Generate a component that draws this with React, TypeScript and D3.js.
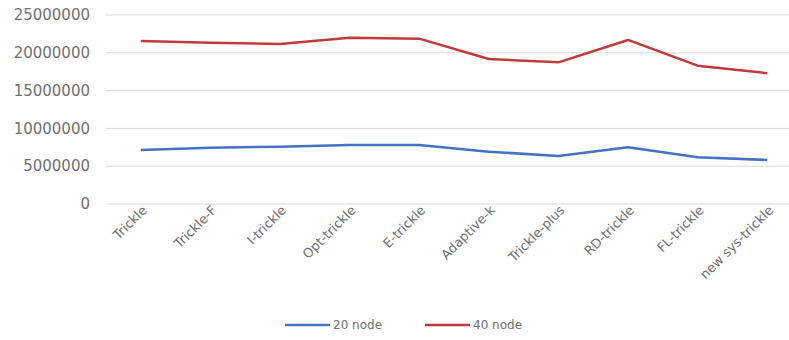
import React, { useEffect, useRef } from "react"
import * as d3 from "d3"

const categories = ["Trickle", "Trickle-F", "I-trickle", "Opt-trickle", "E-trickle", "Adaptive-k", "Trickle-plus", "RD-trickle", "FL-trickle", "new sys-trickle"]
const node20 = [7140000, 7450000, 7580000, 7800000, 7800000, 6920000, 6350000, 7500000, 6180000, 5820000]
const node40 = [21560000, 21340000, 21160000, 22000000, 21870000, 19180000, 18740000, 21700000, 18300000, 17300000]
const yTicks = [0, 5000000, 10000000, 15000000, 20000000, 25000000]
const seriesNames = ["20 node", "40 node"]
const colors = ["#4472C4", "#C0393B"]

export default function App() {
    const ref = useRef<SVGSVGElement>(null)

    useEffect(() => {
        const svg = d3.select(ref.current)
        svg.selectAll("*").remove()

        const width = 789
        const left = 106, right = 802, top = 15, bottom = 204

        const x = d3.scaleBand()
            .domain(categories)
            .range([left, right])
        const y = d3.scaleLinear()
            .domain([0, 25000000])
            .range([bottom, top])

        // gridlines
        svg.append("g")
            .selectAll("line")
            .data(yTicks)
            .enter()
            .append("line")
            .attr("x1", left)
            .attr("x2", width)
            .attr("y1", d => y(d))
            .attr("y2", d => y(d))
            .attr("stroke", "#d9d9d9")
            .attr("stroke-width", 1)

        // y labels
        svg.append("g")
            .selectAll("text")
            .data(yTicks)
            .enter()
            .append("text")
            .attr("x", 90)
            .attr("y", d => y(d))
            .attr("dy", "0.35em")
            .attr("text-anchor", "end")
            .style("font-family", "DejaVu Sans")
            .style("font-size", "15px")
            .attr("fill", "#6f6f6f")
            .text(d => String(d))

        // x labels, rotated
        svg.append("g")
            .selectAll("text")
            .data(categories)
            .enter()
            .append("text")
            .attr("transform", d => "translate(" + (x(d)! + x.bandwidth() / 2 + 7) + ",211) rotate(-45)")
            .attr("text-anchor", "end")
            .style("font-family", "DejaVu Sans")
            .style("font-size", "13px")
            .attr("fill", "#6f6f6f")
            .text(d => d)

        const line = d3.line<number>()
            .x((d, i) => x(categories[i])! + x.bandwidth() / 2)
            .y(d => y(d))

        ;[node20, node40].forEach((s, i) => {
            svg.append("path")
                .datum(s)
                .attr("d", line)
                .attr("fill", "none")
                .attr("stroke", colors[i])
                .attr("stroke-width", 2.5)
                .attr("stroke-linejoin", "round")
        })

        // legend
        const lg = svg.append("g")
        seriesNames.forEach((name, i) => {
            const lx = 285 + i * 140
            lg.append("line")
                .attr("x1", lx)
                .attr("x2", lx + 45)
                .attr("y1", 325)
                .attr("y2", 325)
                .attr("stroke", colors[i])
                .attr("stroke-width", 2.5)
            lg.append("text")
                .attr("x", lx + 48)
                .attr("y", 325)
                .attr("dy", "0.35em")
                .style("font-family", "DejaVu Sans")
                .style("font-size", "12px")
                .attr("fill", "#6f6f6f")
                .text(name)
        })
    }, [])

    return (
        <svg ref={ref} width={789} height={340} style={{ position: "absolute", left: 0, top: 0, background: "#fff" }} />
    )
}
